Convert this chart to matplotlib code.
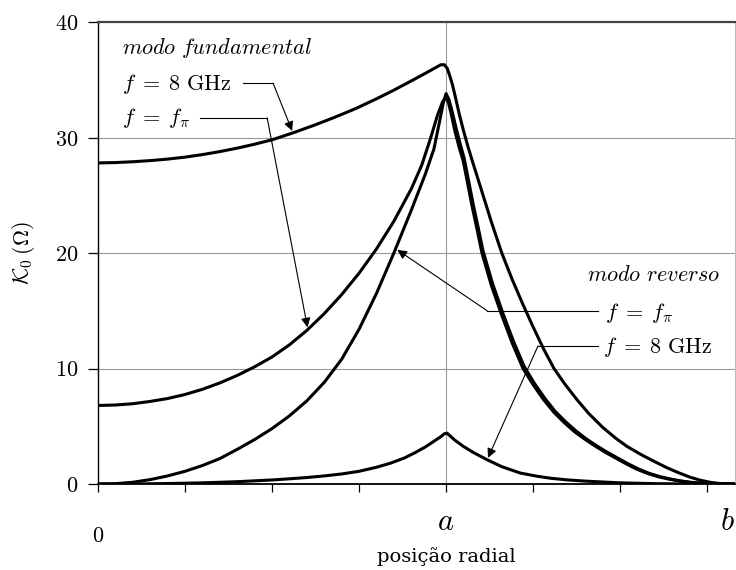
import numpy as np
import matplotlib
matplotlib.use('Agg')
import matplotlib.pyplot as plt
from matplotlib.transforms import blended_transform_factory

plt.rcParams['mathtext.fontset'] = 'cm'

# radial position in units of a; b is the outer boundary
a = 1.0
b = 1.83

# fundamental mode, f = 8 GHz
fund_8g_x = [0.0, 0.05, 0.1, 0.15, 0.2, 0.25, 0.3, 0.35, 0.4, 0.45, 0.5, 0.56, 0.62,
             0.68, 0.74, 0.8, 0.85, 0.9, 0.94, 0.97, 0.985, 0.995, 1.003, 1.01,
             1.018, 1.026, 1.038, 1.05, 1.062, 1.075, 1.1, 1.13, 1.16, 1.19, 1.22,
             1.25, 1.28, 1.31, 1.34, 1.376, 1.41, 1.45, 1.49, 1.52, 1.56, 1.595,
             1.635, 1.67, 1.70, 1.73, 1.76, 1.79, 1.83]
fund_8g_y = [27.8, 27.83, 27.9, 28.0, 28.13, 28.3, 28.52, 28.78, 29.08, 29.42, 29.8, 30.4, 31.05,
             31.75, 32.5, 33.35, 34.1, 34.9, 35.55, 36.05, 36.3, 36.3, 36.0, 35.4,
             34.6, 33.6, 32.0, 30.6, 29.3, 28.0, 25.6, 22.7, 20.0, 17.7, 15.6,
             13.6, 11.7, 10.0, 8.7, 7.3, 6.1, 4.9, 3.9, 3.25, 2.55, 2.0,
             1.4, 0.95, 0.6, 0.33, 0.14, 0.03, 0.0]

# fundamental mode, f = f_pi
fund_fpi_x = [0.0, 0.05, 0.1, 0.15, 0.2, 0.25, 0.3, 0.35, 0.4, 0.45, 0.5, 0.55, 0.6,
              0.65, 0.7, 0.75, 0.8, 0.85, 0.9, 0.93, 0.955, 0.975, 0.99, 1.0,
              1.007, 1.015, 1.025, 1.037, 1.049, 1.062, 1.075, 1.09, 1.103, 1.13,
              1.16, 1.19, 1.221, 1.25, 1.28, 1.31, 1.34, 1.37, 1.40, 1.43, 1.46,
              1.49, 1.52, 1.55, 1.58, 1.61, 1.64, 1.67, 1.70, 1.73, 1.76, 1.83]
fund_fpi_y = [6.8, 6.84, 6.95, 7.15, 7.4, 7.75, 8.2, 8.75, 9.4, 10.15, 11.0, 12.05, 13.3,
              14.75, 16.4, 18.25, 20.35, 22.75, 25.55, 27.6, 29.9, 31.9, 33.1, 33.5,
              33.0, 32.0, 30.6, 29.2, 28.0, 26.0, 24.0, 21.9, 20.0, 17.2,
              14.6, 12.2, 10.0, 8.6, 7.3, 6.2, 5.3, 4.5, 3.85, 3.25, 2.7,
              2.2, 1.7, 1.25, 0.9, 0.62, 0.42, 0.26, 0.14, 0.06, 0.01, 0.0]

# reverse mode, f = f_pi
rev_fpi_x = [0.0, 0.05, 0.1, 0.15, 0.2, 0.25, 0.3, 0.35, 0.4, 0.45, 0.5, 0.55, 0.6,
             0.65, 0.7, 0.75, 0.8, 0.85, 0.9, 0.94, 0.965, 0.98, 0.992, 1.0,
             1.008, 1.017, 1.028, 1.04, 1.052, 1.065, 1.078, 1.093, 1.106, 1.133,
             1.163, 1.193, 1.224, 1.253, 1.283, 1.313, 1.343, 1.373, 1.403, 1.433,
             1.463, 1.493, 1.523, 1.553, 1.583, 1.613, 1.643, 1.673, 1.703, 1.733,
             1.763, 1.83]
rev_fpi_y = [0.0, 0.03, 0.15, 0.38, 0.7, 1.1, 1.6, 2.2, 3.0, 3.85, 4.8, 5.9, 7.2,
             8.8, 10.8, 13.4, 16.5, 20.0, 23.7, 26.8, 29.0, 31.2, 33.0, 33.8,
             33.3, 32.3, 30.9, 29.5, 28.2, 26.2, 24.2, 22.1, 20.2, 17.4,
             14.8, 12.4, 10.2, 8.75, 7.45, 6.3, 5.4, 4.6, 3.9, 3.3, 2.75,
             2.25, 1.75, 1.3, 0.93, 0.65, 0.44, 0.27, 0.15, 0.07, 0.02, 0.0]

# reverse mode, f = 8 GHz
rev_8g_x = [0.0, 0.1, 0.2, 0.3, 0.4, 0.5, 0.55, 0.6, 0.65, 0.7, 0.75, 0.8, 0.84, 0.88,
            0.91, 0.94, 0.965, 0.985, 0.995, 1.003, 1.012, 1.025, 1.05, 1.08, 1.118,
            1.16, 1.213, 1.26, 1.3, 1.35, 1.4, 1.5, 1.6, 1.7, 1.83]
rev_8g_y = [0.0, 0.0, 0.04, 0.1, 0.2, 0.35, 0.45, 0.56, 0.7, 0.87, 1.1, 1.45, 1.8, 2.25,
            2.7, 3.2, 3.7, 4.1, 4.35, 4.4, 4.15, 3.8, 3.25, 2.7, 2.1,
            1.5, 0.95, 0.68, 0.5, 0.35, 0.25, 0.1, 0.03, 0.0, 0.0]

yticks = [0, 10, 20, 30, 40]
xticks = [0.25 * k for k in range(8)]

fig = plt.figure(figsize=(7.36, 5.70), dpi=100)
ax = fig.add_axes([98 / 736, 86 / 570, 637 / 736, 462 / 570])

ax.set_xlim(0, b)
ax.set_ylim(0, 40)

# light grid: horizontal lines and the vertical line at r = a
for v in yticks[1:-1]:
    ax.axhline(v, color='#9a9a9a', lw=0.8, zorder=1)
ax.axvline(a, color='#9a9a9a', lw=0.8, zorder=1)

for xs, ys in [(fund_8g_x, fund_8g_y), (fund_fpi_x, fund_fpi_y),
               (rev_fpi_x, rev_fpi_y), (rev_8g_x, rev_8g_y)]:
    ax.plot(xs, ys, color='black', lw=2.2, solid_joinstyle='round',
            solid_capstyle='round', zorder=3)

ax.spines['top'].set_color('#444444')
ax.spines['top'].set_linewidth(1.6)
ax.spines['right'].set_color('#bbbbbb')
ax.spines['right'].set_linewidth(0.8)
ax.spines['left'].set_linewidth(1.0)
ax.spines['bottom'].set_linewidth(1.3)

ax.set_yticks(yticks)
ax.set_yticklabels([f'${v}$' for v in yticks], fontsize=16)
ax.set_xticks(xticks)
ax.set_xticklabels([])
ax.tick_params(axis='y', direction='out', length=7, width=0.9, pad=7)
ax.tick_params(axis='x', direction='out', length=6, width=0.9)

ax.set_ylabel(r'$\mathcal{K}_0\,(\Omega)$', fontsize=16)
ax.yaxis.set_label_coords(-0.096, 0.5)

trans = blended_transform_factory(ax.transData, fig.transFigure)
ax.text(0, 34 / 570, r'$0$', transform=trans, ha='center', va='center', fontsize=16)
ax.text(a, 49 / 570, r'$a$', transform=trans, ha='center', va='center', fontsize=22)
ax.text(b, 49 / 570, r'$b$', transform=trans, ha='right', va='center', fontsize=22)
ax.text(a, 13 / 570, 'posição radial', transform=trans, ha='center', va='center',
        fontsize=14, family='DejaVu Serif')


def callout(label, tx, ty, x0, bend, tip_x, cx, cy):
    ax.text(tx, ty, label, ha='left', va='center', fontsize=16, zorder=5)
    ax.plot([x0, bend[0]], [bend[1], bend[1]], color='black', lw=0.8, zorder=4)
    tip = (tip_x, np.interp(tip_x, cx, cy))
    ax.annotate('', xy=tip, xytext=bend, zorder=4,
                arrowprops=dict(arrowstyle='-|>', color='black', lw=0.8,
                                mutation_scale=14, shrinkA=0, shrinkB=1.5))


ax.text(0.069, 37.75, r'$\mathit{modo\ fundamental}$', ha='left', va='center', fontsize=16)
callout(r'$f\;=\;8\ \mathrm{GHz}$', 0.069, 34.6, 0.417, (0.503, 34.7), 0.56,
        fund_8g_x, fund_8g_y)
callout(r'$f\;=\;f_\pi$', 0.069, 31.7, 0.293, (0.486, 31.7), 0.603,
        fund_fpi_x, fund_fpi_y)

ax.text(1.787, 18.1, r'$\mathit{modo\ reverso}$', ha='right', va='center', fontsize=16)
callout(r'$f\;=\;f_\pi$', 1.457, 14.8, 1.437, (1.118, 15.0), 0.855,
        rev_fpi_x, rev_fpi_y)
callout(r'$f\;=\;8\ \mathrm{GHz}$', 1.451, 11.9, 1.437, (1.264, 11.95), 1.118,
        rev_8g_x, rev_8g_y)

fig.savefig('out.png', dpi=100)
